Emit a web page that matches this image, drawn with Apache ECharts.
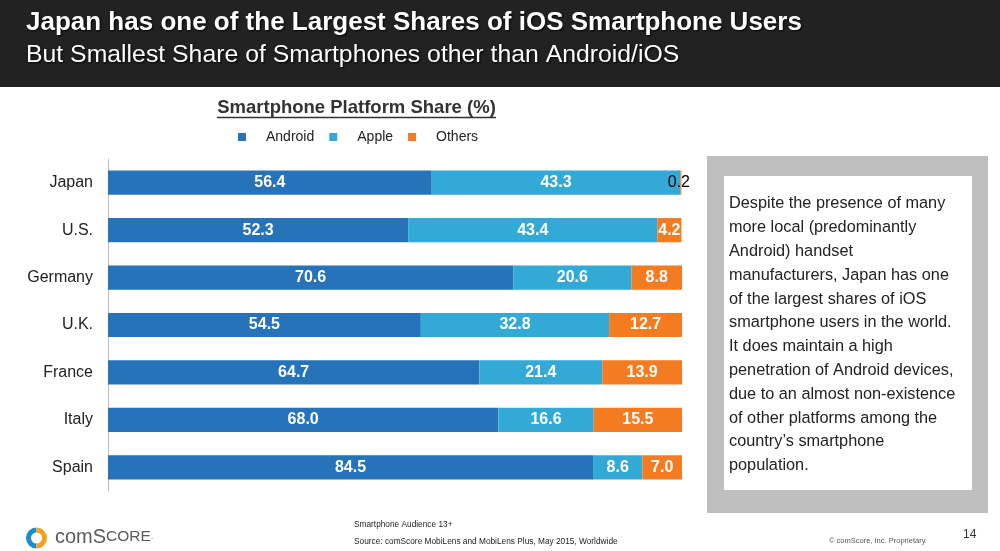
<!DOCTYPE html>
<html>
<head>
<meta charset="utf-8">
<script src="https://cdn.jsdelivr.net/npm/echarts@6/dist/echarts.min.js"></script>
<style>
html,body{margin:0;padding:0;background:#fff;}
#chart{width:1000px;height:551px;}
</style>
</head>
<body>
<div id="chart"></div>
<script>
const categories = ['Japan', 'U.S.', 'Germany', 'U.K.', 'France', 'Italy', 'Spain'];
const seriesNames = ['Android', 'Apple', 'Others'];
const android = [56.4, 52.3, 70.6, 54.5, 64.7, 68.0, 84.5];
const apple = [43.3, 43.4, 20.6, 32.8, 21.4, 16.6, 8.6];
const others = [0.2, 4.2, 8.8, 12.7, 13.9, 15.5, 7.0];

const FONT = '"Liberation Sans", Arial, sans-serif';
const colors = ['#2773B9', '#33AAD6', '#F37B21'];

const chart = echarts.init(document.getElementById('chart'), null, {renderer: 'canvas'});

const boxText = [
  'Despite the presence of many',
  'more local (predominantly',
  'Android) handset',
  'manufacturers, Japan has one',
  'of the largest shares of iOS',
  'smartphone users in the world.',
  'It does maintain a high',
  'penetration of Android devices,',
  'due to an almost non-existence',
  'of other platforms among the',
  'country\u2019s smartphone',
  'population.'
].join('\n');

function barLabel(extra) {
  return Object.assign({
    show: true,
    position: 'inside',
    color: '#fff',
    fontWeight: 'bold',
    fontSize: 16,
    fontFamily: FONT,
    formatter: p => Number(p.value).toFixed(1)
  }, extra || {});
}

const othersData = others.map((v, i) => {
  if (i === 0) {
    return {value: v, label: {color: '#000', fontWeight: 'normal', offset: [-2, 0]}};
  }
  return v;
});

const option = {
  backgroundColor: '#ffffff',
  animation: false,
  color: colors,
  textStyle: {fontFamily: FONT},
  legend: {
    data: seriesNames,
    left: 238,
    top: 130,
    padding: 0,
    itemWidth: 8,
    itemHeight: 8,
    itemGap: 15,
    icon: 'rect',
    textStyle: {fontSize: 14, color: '#222', fontFamily: FONT, padding: [0, 0, 0, 15]}
  },
  grid: {left: 108, right: 318, top: 159, bottom: 60, containLabel: false},
  xAxis: {
    type: 'value', min: 0, max: 100, show: false
  },
  yAxis: {
    type: 'category',
    data: categories,
    inverse: true,
    axisLine: {show: true, lineStyle: {color: '#BFBFBF', width: 1}},
    axisTick: {show: false},
    axisLabel: {fontSize: 16, color: '#222', margin: 15, fontFamily: FONT},
    splitLine: {show: false}
  },
  series: [
    {name: 'Android', type: 'bar', stack: 's', data: android, barCategoryGap: '49%', label: barLabel()},
    {name: 'Apple', type: 'bar', stack: 's', data: apple, label: barLabel()},
    {name: 'Others', type: 'bar', stack: 's', data: othersData, label: barLabel()}
  ],
  graphic: [
    {type: 'rect', shape: {x: 0, y: 0, width: 1000, height: 87}, style: {fill: '#222222'}, z: 1},
    {type: 'text', x: 26, y: 23, z: 2, style: {
      text: 'Japan has one of the Largest Shares of iOS Smartphone Users',
      fill: '#fff', font: 'bold 26px ' + FONT, textVerticalAlign: 'middle',
      textShadowColor: 'rgba(0,0,0,0.9)', textShadowBlur: 2, textShadowOffsetX: 1, textShadowOffsetY: 1
    }},
    {type: 'text', x: 26, y: 55, z: 2, style: {
      text: 'But Smallest Share of Smartphones other than Android/iOS',
      fill: '#fff', font: '24.8px ' + FONT, textVerticalAlign: 'middle',
      textShadowColor: 'rgba(0,0,0,0.9)', textShadowBlur: 2, textShadowOffsetX: 1, textShadowOffsetY: 1
    }},
    {type: 'text', x: 356.5, y: 108, z: 2, style: {
      text: 'Smartphone Platform Share (%)',
      fill: '#333', font: 'bold 18.5px ' + FONT, textAlign: 'center', textVerticalAlign: 'middle'
    }},
    {type: 'line', z: 2, shape: {x1: 217, y1: 117.5, x2: 496, y2: 117.5}, style: {stroke: '#333', lineWidth: 1.3}},
    {type: 'rect', z: 1, shape: {x: 707, y: 156, width: 281, height: 357}, style: {fill: '#BFBFBF'}},
    {type: 'rect', z: 2, shape: {x: 724, y: 176, width: 248, height: 314}, style: {fill: '#ffffff'}},
    {type: 'text', x: 729, y: 192, z: 3, style: {
      text: boxText, fill: '#222', font: '16.3px ' + FONT, lineHeight: 23.8, textVerticalAlign: 'top'
    }},
    {type: 'arc', z: 2, shape: {cx: 36.5, cy: 538, r: 8, startAngle: Math.PI * 0.5, endAngle: Math.PI * 1.5}, style: {stroke: '#1E8CC8', lineWidth: 5, fill: null}},
    {type: 'arc', z: 2, shape: {cx: 36.5, cy: 538, r: 8, startAngle: -Math.PI * 0.5, endAngle: Math.PI * 0.5}, style: {stroke: '#F6A21E', lineWidth: 5, fill: null}},
    {type: 'text', x: 55, y: 547, z: 2, style: {
      text: '{a|com}{b|S}{c|CORE}{d|.}',
      textVerticalAlign: 'bottom',
      rich: {
        a: {fontSize: 20, fontFamily: FONT, fill: '#5a5a5a', color: '#5a5a5a'},
        b: {fontSize: 20, fontFamily: FONT, fill: '#5a5a5a', color: '#5a5a5a'},
        c: {fontSize: 15.5, fontFamily: FONT, fill: '#5a5a5a', color: '#5a5a5a'},
        d: {fontSize: 8, fontFamily: FONT, fill: '#5a5a5a', color: '#5a5a5a'}
      }
    }},
    {type: 'text', x: 354, y: 525, z: 2, style: {
      text: 'Smartphone Audience 13+', fill: '#222', font: '8.3px ' + FONT, textVerticalAlign: 'middle'
    }},
    {type: 'text', x: 354, y: 542, z: 2, style: {
      text: 'Source: comScore MobiLens and MobiLens Plus, May 2015, Worldwide', fill: '#222', font: '8.3px ' + FONT, textVerticalAlign: 'middle'
    }},
    {type: 'text', x: 829, y: 541, z: 2, style: {
      text: '\u00A9 comScore, Inc. Proprietary.', fill: '#555', font: '7.5px ' + FONT, textVerticalAlign: 'middle'
    }},
    {type: 'text', x: 963, y: 535, z: 2, style: {
      text: '14', fill: '#333', font: '12px ' + FONT, textVerticalAlign: 'middle'
    }}
  ]
};

chart.setOption(option);
</script>
</body>
</html>
